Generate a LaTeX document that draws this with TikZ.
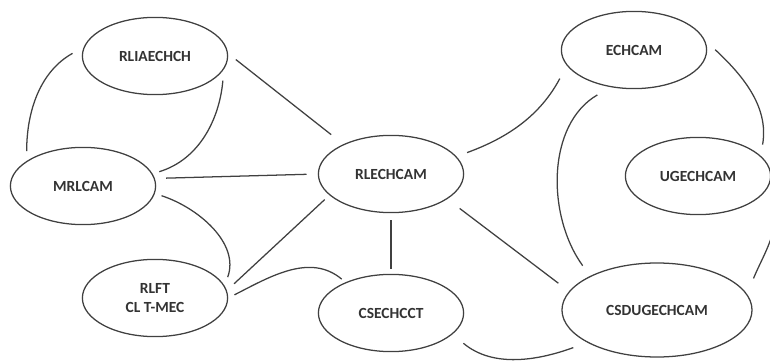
\documentclass[tikz,border=0pt]{standalone}
\usepackage{fontspec}
\setmainfont{Carlito}
\usetikzlibrary{shapes.geometric}

\begin{document}
\begin{tikzpicture}[x=0.025cm, y=0.025cm,
    bubble/.style={draw=black!75, line width=0.9pt, ellipse, inner sep=0pt,
      minimum width=3.63cm, minimum height=1.93cm, align=center,
      font=\fontsize{11}{14}\selectfont\bfseries, text=black!80},
    link/.style={draw=black!75, line width=0.9pt}]
            \useasboundingbox (0,0) rectangle (770,363);

            % Define nodes
            \node[bubble] (rliaechch) at (155,307) {RLIAECHCH};
            \node[bubble] (mrlcam) at (83,177) {MRLCAM};
            \node[bubble] (rlechcam) at (391,189) {RLECHCAM};
            \node[bubble] (rlft) at (155,65) {RLFT\\CL T-MEC};
            \node[bubble] (csechcct) at (391,50) {CSECHCCT};
            \node[bubble] (echcam) at (634,313) {ECHCAM};
            \node[bubble] (ugechcam) at (698,187) {UGECHCAM};
            \node[bubble, minimum width=4.75cm, minimum height=2.35cm] (csdugechcam) at (657,53) {CSDUGECHCAM};

            % Draw edges
            \draw[link, shorten <=9pt, shorten >=7pt] (rliaechch.173) to[out=209, in=90] (mrlcam.156);
            \draw[link, shorten <=8pt, shorten >=5pt] (rliaechch.-11) to[out=265, in=17] (mrlcam.10);
            \draw[link, shorten <=7pt, shorten >=11pt] (rliaechch.2) -- (rlechcam.148);
            \draw[link, shorten <=8pt, shorten >=8pt] (mrlcam.6) -- (rlechcam.180);
            \draw[link, shorten <=5pt, shorten >=6.5pt] (mrlcam.-6) to[out=-18, in=70] (rlft.10);
            \draw[link, shorten <=7pt, shorten >=4.5pt] (rlft.6) -- (rlechcam.199);
            \draw[link, shorten <=5pt, shorten >=3.5pt] (rlft.0) to[out=27, in=140] (csechcct.146);
            \draw[link, shorten <=5pt, shorten >=3.5pt] (rlechcam.270) -- (csechcct.90);
            \draw[link, shorten <=11pt, shorten >=9.5pt] (rlechcam.-24) -- (csdugechcam.168);
            \draw[link, shorten <=8pt, shorten >=10.5pt] (rlechcam.15) to[out=20, in=242] (echcam.193);
            \draw[link, shorten <=11pt, shorten >=9pt] (echcam.238) to[out=210, in=126] (csdugechcam.153);
            \draw[link, shorten <=10pt, shorten >=8pt] (echcam.8) to[out=-43, in=80] (ugechcam.18);
            \draw[link, shorten <=10pt, shorten >=12pt] (ugechcam.-10) to[out=-70, in=68] (csdugechcam.10);
            \draw[link, shorten <=10pt, shorten >=10.5pt] (csechcct.-19) to[out=-40, in=200] (csdugechcam.205);

        \end{tikzpicture}
\end{document}
